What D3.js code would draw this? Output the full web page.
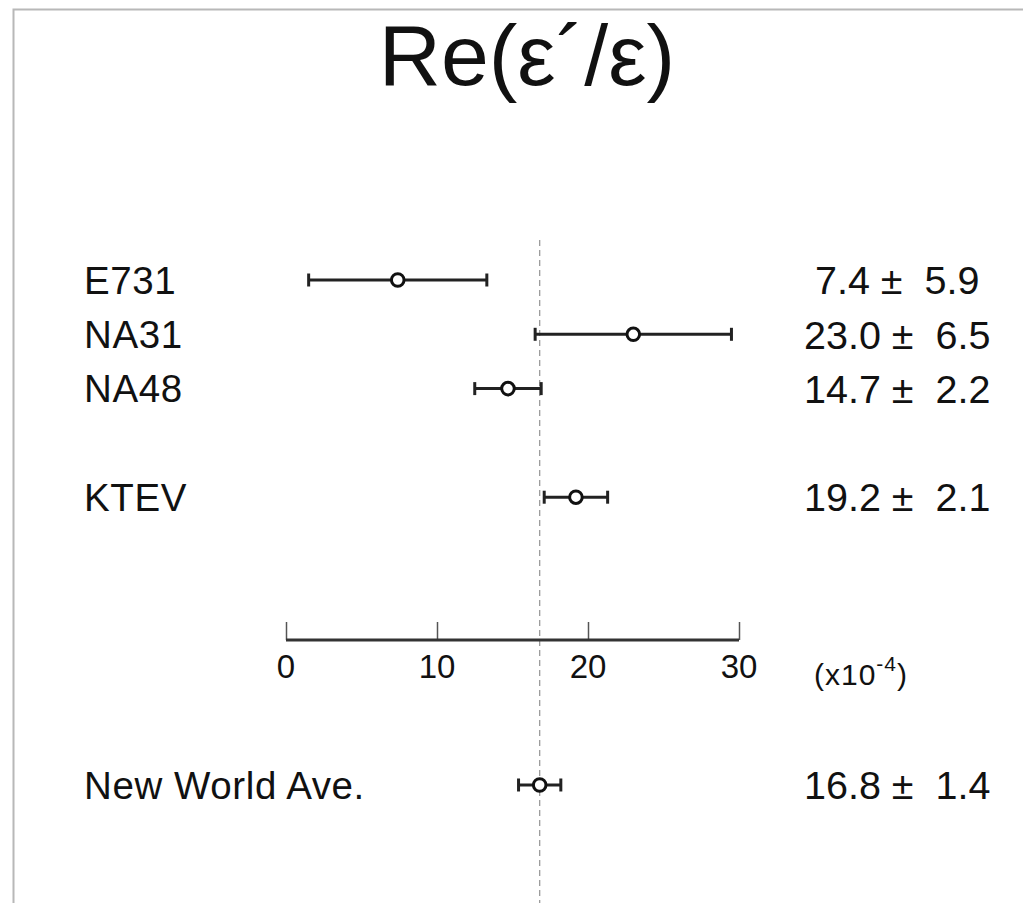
<!DOCTYPE html>
<html>
<head>
<meta charset="utf-8">
<script src="https://cdn.jsdelivr.net/npm/d3@7"></script>
<style>
  body { margin: 0; background: #fff; }
  text { font-family: "Liberation Sans", Arial, Helvetica, sans-serif; fill: #111; white-space: pre; }
</style>
</head>
<body>
<script>
// measurements, in units of 1e-4
const experiments = ["E731", "NA31", "NA48", "KTEV"];
const values = [7.4, 23.0, 14.7, 19.2];
const errors = [5.9, 6.5, 2.2, 2.1];

const averageLabel = "New World Ave.";
const averageValue = 16.8;
const averageError = 1.4;

const axisTicks = [0, 10, 20, 30];

const width = 1023;
const height = 903;

const svg = d3.select("body")
    .append("svg")
    .attr("width", width)
    .attr("height", height);

// frame (only the top and left edges show in the window)
svg.append("rect")
    .attr("x", 13.5)
    .attr("y", 9.5)
    .attr("width", width + 20)
    .attr("height", height + 20)
    .attr("fill", "none")
    .attr("stroke", "#b8b8b8")
    .attr("stroke-width", 2);

svg.append("text")
    .attr("x", 527)
    .attr("y", 85)
    .attr("text-anchor", "middle")
    .attr("font-size", 86)
    .text("Re(ε´/ε)");

const x = d3.scaleLinear().domain([0, 30]).range([286, 739]);
// row slots: three experiments, a gap, KTEV, then the average below the axis
const slot = d3.scaleLinear().domain([0, 1]).range([280, 334.3]);
const rowSlots = [0, 1, 2, 4];
const avgSlot = 9.3;

const fmt = d3.format("4.1f");

const rows = experiments.map((name, i) => ({
    name: name, v: values[i], e: errors[i], y: slot(rowSlots[i])
}));
rows.push({ name: averageLabel, v: averageValue, e: averageError, y: slot(avgSlot) });

// dashed line at the world average
svg.append("line")
    .attr("x1", x(averageValue))
    .attr("x2", x(averageValue))
    .attr("y1", 240)
    .attr("y2", height)
    .attr("stroke", "#9a9a9a")
    .attr("stroke-width", 1.3)
    .attr("stroke-dasharray", "6,4");

// axis
const axisY = 640;
const axis = svg.append("g")
    .attr("transform", `translate(0,${axisY})`)
    .call(d3.axisTop(x).tickValues(axisTicks).tickSize(18).tickFormat(""));
axis.select(".domain").remove();
axis.selectAll(".tick line").attr("stroke", "#555").attr("stroke-width", 1.5);

svg.append("line")
    .attr("x1", x(0))
    .attr("x2", x(30))
    .attr("y1", axisY)
    .attr("y2", axisY)
    .attr("stroke", "#333")
    .attr("stroke-width", 3.2);

svg.append("g")
    .selectAll("text")
    .data(axisTicks)
    .join("text")
    .attr("x", d => x(d))
    .attr("y", 678)
    .attr("text-anchor", "middle")
    .attr("font-size", 33)
    .text(d => d);

const unit = svg.append("text")
    .attr("x", 814)
    .attr("y", 685)
    .attr("font-size", 30)
    .attr("letter-spacing", 1)
    .text("(x10");
unit.append("tspan").attr("font-size", 21).attr("dy", -14).text("-4");
unit.append("tspan").attr("dy", 14).text(")");

// error bars
const g = svg.append("g")
    .selectAll("g")
    .data(rows)
    .join("g");

g.append("line")
    .attr("x1", d => x(d.v - d.e))
    .attr("x2", d => x(d.v + d.e))
    .attr("y1", d => d.y)
    .attr("y2", d => d.y)
    .attr("stroke", "#222")
    .attr("stroke-width", 3);

g.selectAll("line.cap")
    .data(d => [d.v - d.e, d.v + d.e].map(c => ({ c: c, y: d.y })))
    .join("line")
    .attr("class", "cap")
    .attr("x1", d => x(d.c))
    .attr("x2", d => x(d.c))
    .attr("y1", d => d.y - 6.5)
    .attr("y2", d => d.y + 6.5)
    .attr("stroke", "#222")
    .attr("stroke-width", 3);

g.append("circle")
    .attr("cx", d => x(d.v))
    .attr("cy", d => d.y)
    .attr("r", 6.3)
    .attr("fill", "#fff")
    .attr("stroke", "#111")
    .attr("stroke-width", 3);

g.append("text")
    .attr("x", 84)
    .attr("y", d => d.y)
    .attr("dy", "0.36em")
    .attr("font-size", 38.5)
    .attr("letter-spacing", 0.6)
    .text(d => d.name);

g.append("text")
    .attr("x", 804)
    .attr("y", d => d.y)
    .attr("dy", "0.36em")
    .attr("font-size", 39.5)
    .text(d => `${fmt(d.v)} ± ${fmt(d.e)}`);
</script>
</body>
</html>
